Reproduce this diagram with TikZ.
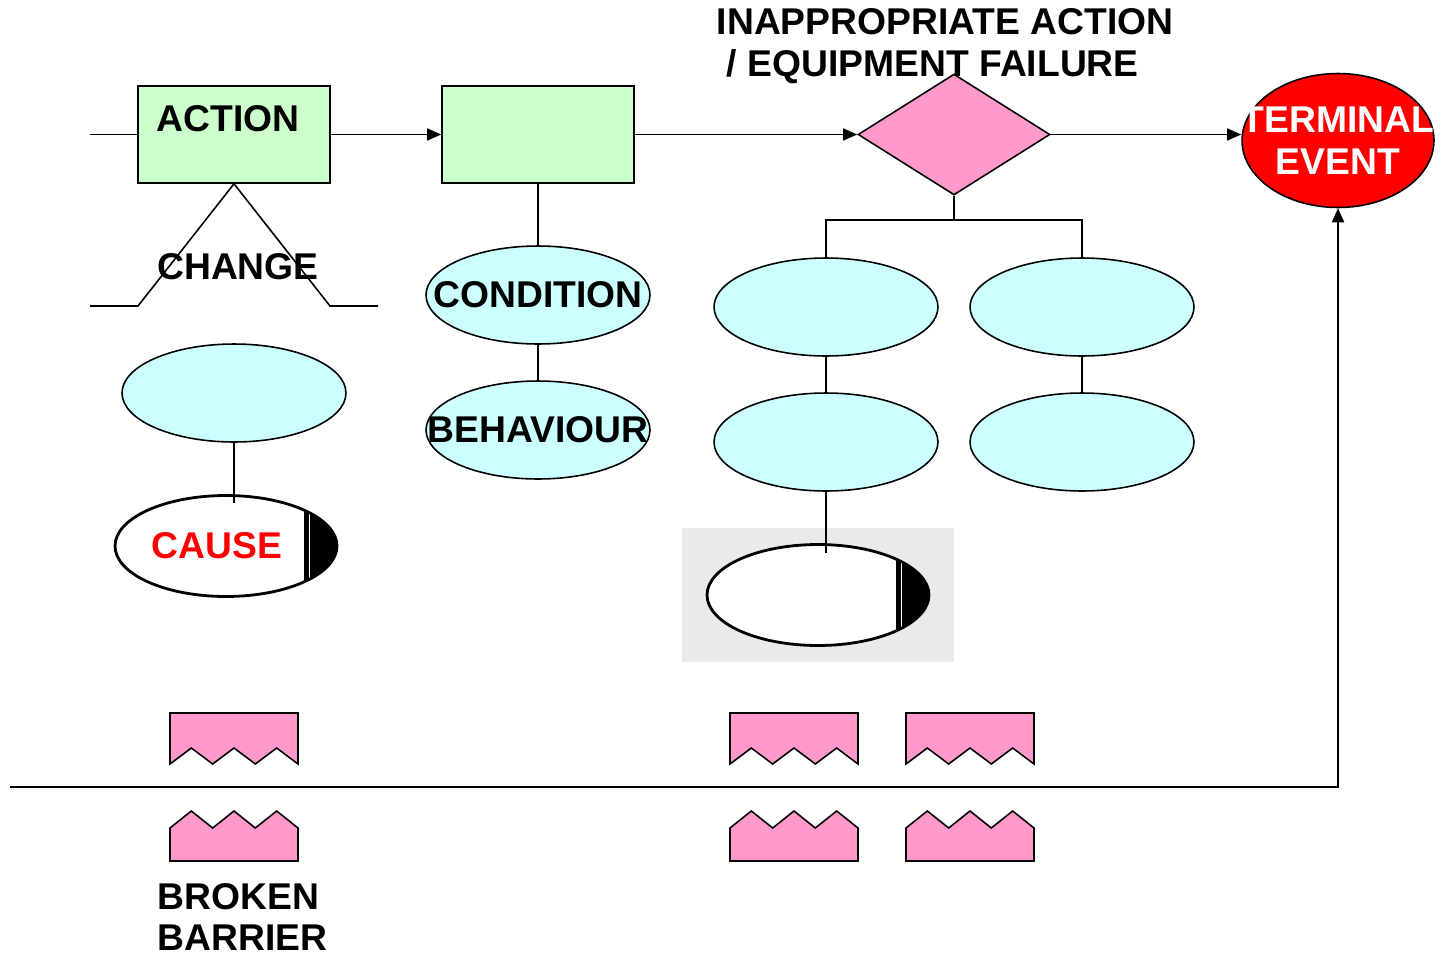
\documentclass[tikz,border=0pt]{standalone}
\usepackage{fontspec}
\setmainfont{Liberation Sans}
\usetikzlibrary{shapes.geometric,arrows.meta}
\definecolor{actgreen}{HTML}{CCFFCC}
\definecolor{ovcyan}{HTML}{CCFFFF}
\definecolor{barpink}{HTML}{FF99CC}
\definecolor{bggray}{HTML}{EAEAEA}
\newcommand{\bigbold}{\fontsize{21.2}{23.8}\selectfont\bfseries}

\begin{document}
\begin{tikzpicture}[x=0.02cm, y=-0.02cm, line width=0.9pt, font=\bigbold,
    box/.style = {draw, fill=actgreen, minimum width=3.84cm, minimum height=1.94cm, inner sep=0pt},
    oval/.style = {draw, ellipse, fill=ovcyan, minimum width=4.48cm, minimum height=1.96cm, inner sep=0pt},
    causeoval/.style = {draw, ellipse, fill=white, line width=1.6pt, minimum width=4.44cm, minimum height=2.02cm, inner sep=0pt,
        path picture={\fill[black] ([xshift=-0.66cm]path picture bounding box.north east) rectangle (path picture bounding box.south east);
            \draw[white, line width=0.5pt] ([xshift=-0.56cm]path picture bounding box.north east) -- ([xshift=-0.56cm]path picture bounding box.south east);}},
    lbl/.style = {inner sep=0pt},
    arr/.style = {-{Triangle[length=0.28cm, width=0.24cm]}}]
    \useasboundingbox (0,0) rectangle (1443,957);

    \fill[bggray] (682,528) rectangle (954,662);

    \node[box](act) at (234,134.5){};
    \node[box](box2) at (538,134.5){};
    \node[diamond, draw, fill=barpink, minimum width=3.84cm, minimum height=2.42cm, inner sep=0pt](dia) at (954,134.5){};
    \node[ellipse, draw, fill=red, text=white, align=center, minimum width=3.84cm, minimum height=2.68cm, inner sep=0pt](term) at (1338,140.5){\makebox[0pt]{TERMINAL}\\\makebox[0pt]{EVENT}};

    \node[lbl](actlbl) at (228,119){ACTION};
    \node[lbl](chg) at (238,267){CHANGE};
    \node[lbl, align=left, anchor=west](fail) at (716,46){INAPPROPRIATE ACTION\\\hspace*{0.2cm}/ EQUIPMENT FAILURE};
    \node[lbl, align=left, anchor=west](brk) at (157,917){BROKEN\\BARRIER};

    \node[oval](cond) at (538,295){\makebox[0pt]{CONDITION}};
    \node[oval](behav) at (538,430){\makebox[0pt]{BEHAVIOUR}};
    \node[oval](ovL) at (234,393){};
    \node[oval](ovA) at (826,307){};
    \node[oval](ovB) at (1082,307){};
    \node[oval](ovC) at (826,442){};
    \node[oval](ovD) at (1082,442){};

    \node[causeoval, text=red](cauA) at (226,546){\hspace*{-0.36cm}\raisebox{-0.06cm}{CAUSE}};
    \node[causeoval](cauB) at (818,595){};

    \coordinate (lstart) at (90,134.5);
    \coordinate (chgL) at (90,306);
    \coordinate (chgA) at (138,306);
    \coordinate (chgB) at (330,306);
    \coordinate (chgR) at (378,306);
    \coordinate (split) at (954,220);
    \coordinate (cauAtop) at (234,503);
    \coordinate (cauBtop) at (826,553);
    \coordinate (bstart) at (10,787);

    \draw (lstart) -- (act.west);
    \draw[arr] (act.east) -- (box2.west);
    \draw[arr] (box2.east) -- (dia.west);
    \draw[arr] (dia.east) -- (dia.east -| term.west);
    \draw (chgL) -- (chgA) -- (act.south) -- (chgB) -- (chgR);
    \draw (box2.south) -- (cond.north);
    \draw (cond.south) -- (behav.north);
    \draw (dia.south) -- (split);
    \draw (ovA.north) |- (split) -| (ovB.north);
    \draw (ovA.south) -- (ovC.north);
    \draw (ovB.south) -- (ovD.north);
    \draw (ovC.south) -- (cauBtop);
    \draw (ovL.south) -- (cauAtop);
    \draw[arr, line width=1.3pt] (bstart) -| (term.south);

    \foreach \bx in {170,730,906} {
        \draw[fill=barpink] (\bx,713) -- ++(128,0) -- ++(0,51) -- ++(-21.33,-16) -- ++(-21.33,16) -- ++(-21.33,-16)
            -- ++(-21.33,16) -- ++(-21.33,-16) -- ++(-21.33,16) -- cycle;
        \draw[fill=barpink] (\bx,861) -- ++(0,-33) -- ++(21.33,-17) -- ++(21.33,17) -- ++(21.33,-17)
            -- ++(21.33,17) -- ++(21.33,-17) -- ++(21.33,17) -- ++(0,33) -- cycle;
    }
\end{tikzpicture}
\end{document}
